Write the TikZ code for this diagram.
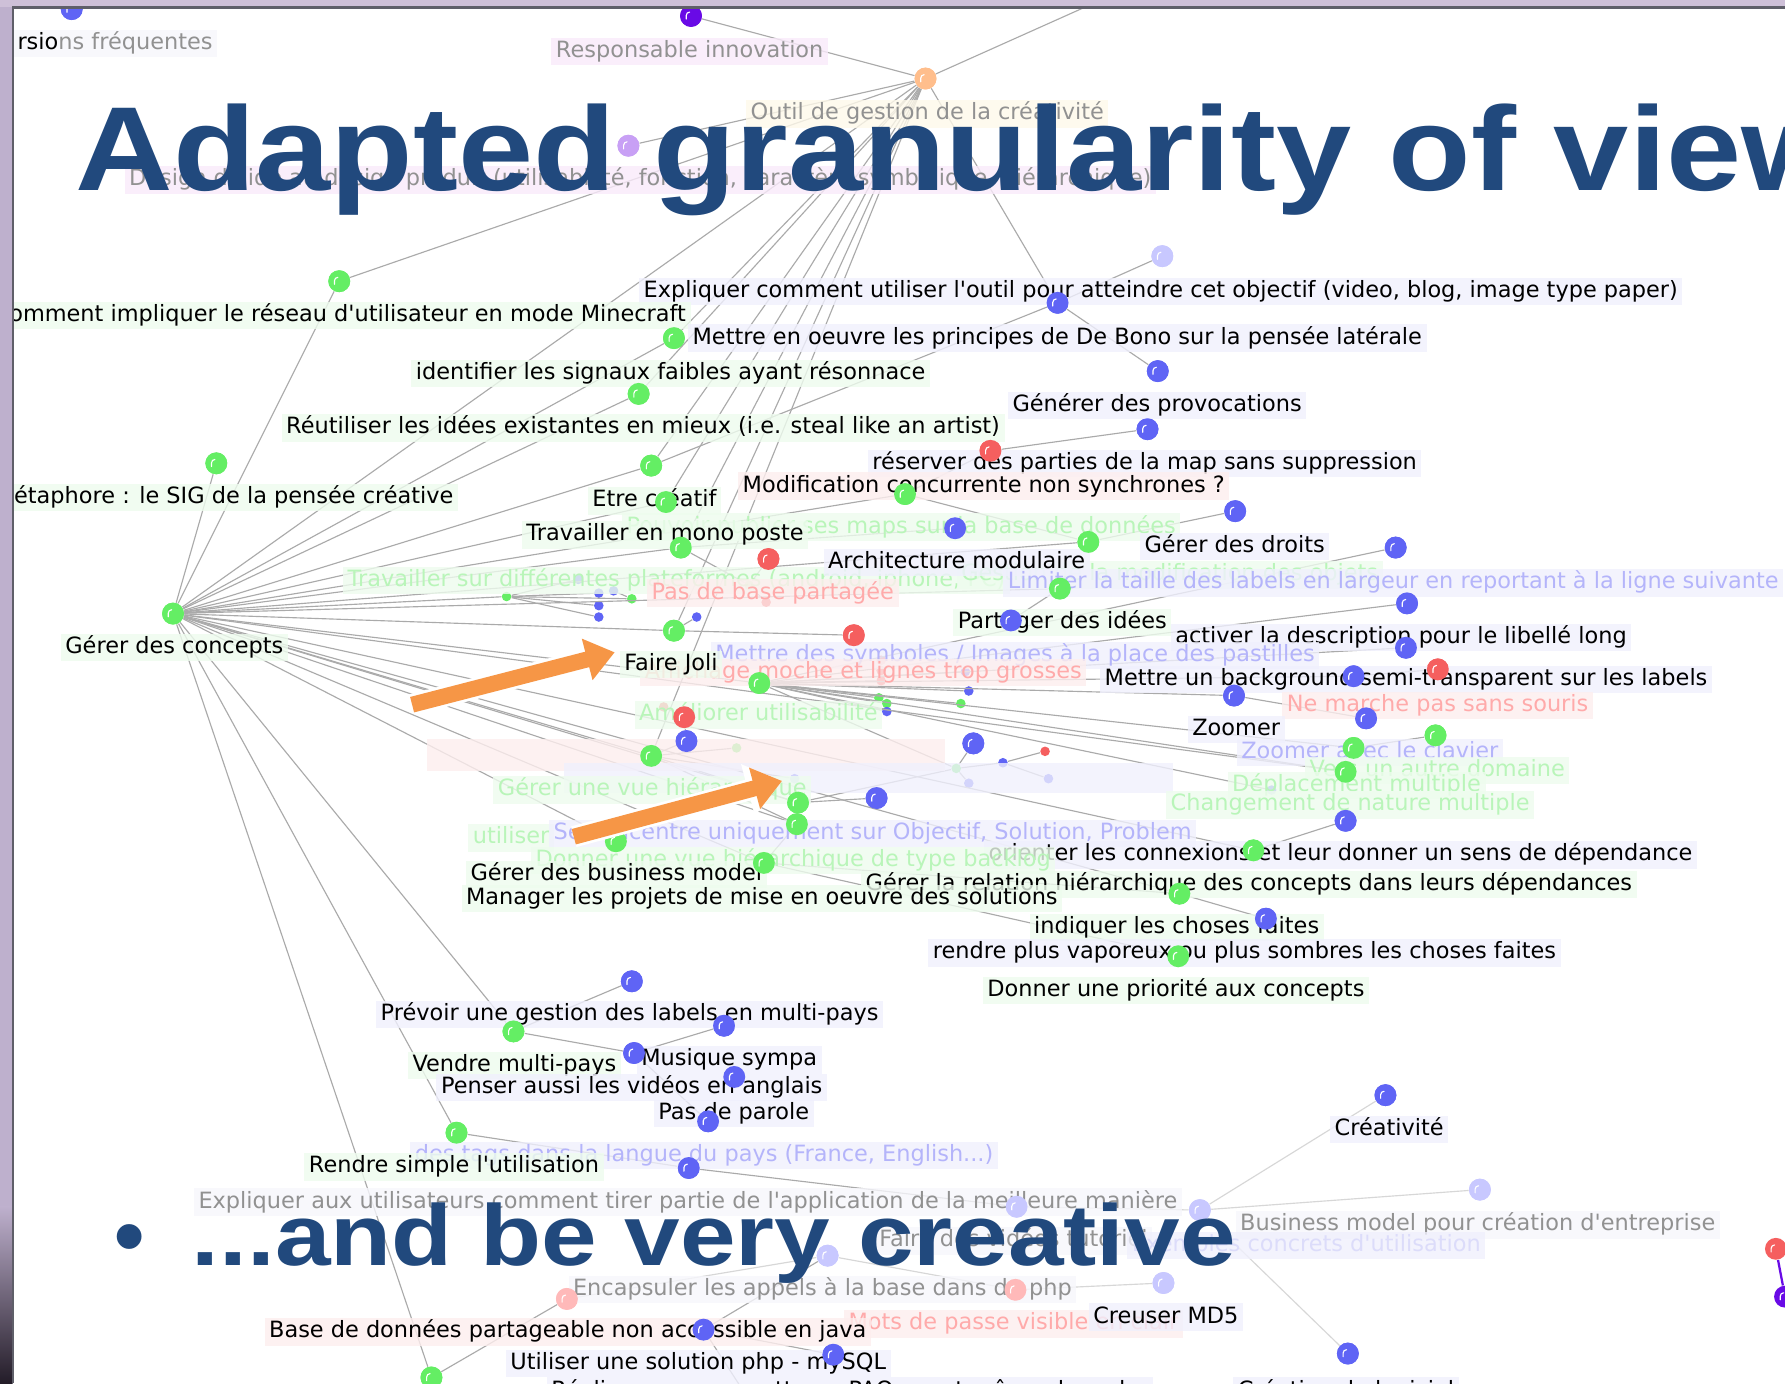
\documentclass[tikz,border=0pt]{standalone}
\usepackage{fontspec}
\setmainfont{DejaVu Sans}
\newfontfamily\titlefont{Liberation Sans}
\usetikzlibrary{arrows.meta}
\newcommand{\apo}{\textquotesingle}
\definecolor{cG}{RGB}{100,238,100}
\definecolor{cB}{RGB}{95,100,245}
\definecolor{cR}{RGB}{245,95,95}
\definecolor{cFB}{RGB}{200,200,255}
\definecolor{cFR}{RGB}{255,185,185}
\definecolor{cOr}{RGB}{255,190,140}
\definecolor{cPu}{RGB}{105,10,230}
\definecolor{cLa}{RGB}{200,160,245}
\definecolor{bgG}{RGB}{238,252,238}
\definecolor{bgB}{RGB}{240,240,253}
\definecolor{bgR}{RGB}{253,238,238}
\definecolor{bgP}{RGB}{249,234,250}
\definecolor{bgY}{RGB}{254,249,234}
\definecolor{bgW}{RGB}{247,247,252}
\definecolor{tG}{RGB}{185,245,185}
\definecolor{tB}{RGB}{180,180,250}
\definecolor{tR}{RGB}{255,170,170}
\definecolor{tGr}{RGB}{145,145,145}
\definecolor{tFB}{RGB}{220,220,250}
\definecolor{edgec}{RGB}{170,170,170}
\definecolor{edgef}{RGB}{215,215,215}
\definecolor{titlec}{RGB}{33,73,125}
\definecolor{arrowc}{RGB}{246,150,70}
\definecolor{frameA}{RGB}{190,176,205}
\definecolor{frameD}{RGB}{35,28,40}
\definecolor{frameT}{RGB}{206,192,216}
\definecolor{bordc}{RGB}{95,95,105}
\tikzset{
  ball/.style={circle,inner sep=0pt,minimum size=9.6pt,fill=#1,draw=none,
    path picture={\draw[white,line width=0.5pt,line cap=round]
      ([xshift=-2.1pt,yshift=-1.4pt]path picture bounding box.center) -- ++(0pt,1.6pt)
      arc[start angle=180,end angle=90,radius=1.5pt];}},
  dot/.style={circle,inner sep=0pt,minimum size=4.2pt,fill=#1,draw=none},
  edge/.style={draw=edgec,line width=0.5pt},
  edgefaint/.style={draw=edgef,line width=0.5pt},
  lab/.style={anchor=west,inner xsep=2pt,inner ysep=0pt,minimum height=12pt,
    text height=7.4pt,text depth=2.2pt,font=\fontsize{9.85}{10}\selectfont,
    fill opacity=0.8,text opacity=1},
  lg/.style={lab,fill=bgG}, lb/.style={lab,fill=bgB}, lr/.style={lab,fill=bgR},
  lp/.style={lab,fill=bgP}, ly/.style={lab,fill=bgY}, lw/.style={lab,fill=bgW},
  arrowout/.style={white,line width=9.4pt,-{Triangle[length=15.5pt,width=22.5pt]}},
  arrowin/.style={arrowc,line width=7pt,-{Triangle[length=12.5pt,width=18pt]}},
  bigtext/.style={anchor=base west,inner sep=0pt,text=titlec}
}
\begin{document}
\begin{tikzpicture}[x=0.5pt,y=-0.5pt]
\useasboundingbox (0,0) rectangle (1568,1215);
\clip (0,0) rectangle (1568,1215);
\fill[white] (0,0) rectangle (1568,1215);

% ---------------- balls (positions) ----------------
\node[ball=cB] (b0) at (63,8) {};
\node[ball=cPu] (pu) at (607,14) {};
\node[ball=cOr] (ro) at (813,69) {};
\node[ball=cLa] (la) at (552,128) {};
\coordinate (tr) at (985,-8);
\node[ball=cFB] (fb1) at (1021,225) {};
\node[ball=cG] (g1) at (298,247) {};
\node[ball=cB] (b1) at (929,266) {};
\node[ball=cG] (g2) at (592,297) {};
\node[ball=cB] (b2) at (1017,326) {};
\node[ball=cG] (g3) at (561,346) {};
\node[ball=cB] (b3) at (1008,377) {};
\node[ball=cR] (r1) at (870,396) {};
\node[ball=cG] (g4) at (572,409) {};
\node[ball=cG] (g5) at (190,407) {};
\node[ball=cG] (g6) at (585,441) {};
\node[ball=cG] (g7) at (795,434) {};
\node[ball=cB] (b4) at (1085,449) {};
\node[ball=cB] (b5) at (839,464) {};
\node[ball=cG] (g8) at (956,476) {};
\node[ball=cG] (g9) at (598,481) {};
\node[ball=cR] (r2) at (675,491) {};
\node[ball=cB] (b6) at (1226,481) {};
\node[ball=cG] (g10) at (931,517) {};
\node[ball=cB] (b7) at (1236,530) {};
\node[ball=cG] (gc) at (152,539) {};
\node[dot=cG] (sg1) at (445,524) {};
\node[dot=cB] (sb1) at (508,509) {};
\node[dot=cB] (sb2) at (526,521) {};
\node[dot=cB] (sb3) at (539,519) {};
\node[dot=cB] (sb4) at (526,532) {};
\node[dot=cB] (sb5) at (526,542) {};
\node[dot=cG] (sg2) at (555,526) {};
\node[dot=cG] (sg3) at (658,514) {};
\node[dot=cR] (sr1) at (673,529) {};
\node[dot=cB] (sb6) at (612,542) {};
\node[ball=cG] (g11) at (592,554) {};
\node[ball=cR] (r3) at (750,558) {};
\node[ball=cB] (b8) at (888,545) {};
\node[ball=cB] (b9) at (1235,569) {};
\node[ball=cR] (r4) at (1263,588) {};
\node[ball=cB] (b10) at (1189,594) {};
\node[ball=cB] (b11) at (1084,611) {};
\node[ball=cB] (b12) at (1200,631) {};
\node[ball=cG] (g12) at (667,600) {};
\node[dot=cR] (sr4) at (774,580) {};
\node[dot=cR] (sr5) at (774,589) {};
\node[dot=cR] (sr6) at (774,598) {};
\node[dot=cG] (sg4) at (772,613) {};
\node[dot=cG] (sg5) at (779,618) {};
\node[dot=cB] (sb7) at (779,625) {};
\node[dot=cB] (sb8) at (848,590) {};
\node[dot=cB] (sb9) at (851,607) {};
\node[dot=cG] (sg6) at (844,618) {};
\node[ball=cR] (r5) at (601,630) {};
\node[dot=cR] (sr2) at (583,621) {};
\node[ball=cB] (b13) at (603,651) {};
\node[ball=cG] (g13) at (572,664) {};
\node[dot=cG] (sg7) at (647,657) {};
\node[ball=cB] (b14) at (855,653) {};
\node[ball=cG] (g14) at (1261,646) {};
\node[ball=cG] (g15) at (1189,657) {};
\node[ball=cG] (g16) at (1182,678) {};
\node[dot=cG] (sg8) at (840,675) {};
\node[dot=cB] (sb10) at (881,670) {};
\node[dot=cR] (sr3) at (918,660) {};
\node[dot=cB] (sb11) at (851,688) {};
\node[dot=cB] (sb12) at (921,684) {};
\node[dot=cB] (sb13) at (698,684) {};
\node[ball=cB] (b15) at (770,701) {};
\node[ball=cG] (g17) at (701,705) {};
\node[ball=cG] (g18) at (700,724) {};
\node[ball=cG] (g19) at (541,739) {};
\node[ball=cG] (g20) at (671,758) {};
\node[dot=cB] (sb14) at (1117,694) {};
\node[ball=cB] (b16) at (1182,721) {};
\node[ball=cG] (g21) at (1101,747) {};
\node[ball=cG] (g22) at (1036,785) {};
\node[ball=cB] (b17) at (1112,807) {};
\node[ball=cG] (g23) at (1035,840) {};
\node[ball=cB] (b18) at (555,862) {};
\node[ball=cB] (b19) at (636,901) {};
\node[ball=cG] (g24) at (451,906) {};
\node[ball=cB] (b20) at (557,925) {};
\node[ball=cB] (b21) at (645,946) {};
\node[ball=cB] (b22) at (622,985) {};
\node[ball=cG] (g25) at (401,995) {};
\node[ball=cB] (b23) at (605,1026) {};
\node[ball=cB] (b24) at (1217,962) {};
\node[ball=cFB] (fb2) at (1300,1045) {};
\node[ball=cFB] (fb3) at (893,1060) {};
\node[ball=cFB] (fb4) at (1054,1063) {};
\node[ball=cFB] (fb5) at (727,1103) {};
\node[ball=cFR] (fr1) at (892,1133) {};
\node[ball=cFB] (fb6) at (1022,1127) {};
\node[ball=cFR] (fr2) at (498,1141) {};
\node[ball=cB] (b25) at (618,1168) {};
\node[ball=cB] (b26) at (732,1190) {};
\node[ball=cB] (b27) at (1184,1189) {};
\node[ball=cG] (g26) at (379,1210) {};
\coordinate (bt) at (655,1225);

% ---------------- edges ----------------
\foreach \a/\b in {pu/ro,ro/tr,la/ro,ro/g1,ro/gc,ro/b1,ro/g2,ro/g3,ro/g4,ro/g6,ro/g9,ro/g11,ro/g13,
  gc/g1,gc/g5,gc/g2,gc/g3,gc/g4,gc/g6,gc/g7,gc/g9,gc/g8,gc/g10,gc/sg1,gc/g11,gc/g12,gc/g13,
  gc/g17,gc/g18,gc/g19,gc/g20,gc/g21,gc/g22,gc/g16,gc/g24,gc/g25,gc/g26,
  b1/fb1,b1/b2,b1/g4,r1/b3,r1/g7,b4/g8,g8/g7,b5/g9,g10/b8,
  r2/sg3,sg3/sr1,sg3/g9,sg1/sb2,sg1/sb4,sg1/sb5,sg1/sg2,sg1/sb1,sg2/sb3,
  g11/r3,g11/sb6,
  g12/b6,g12/b7,g12/b9,g12/b10,g12/b11,g12/g15,g12/g16,g12/sb14,g12/sg4,g12/sg5,g12/sb7,
  g12/sb8,g12/sb9,g12/sg6,g12/sg8,g12/sr6,b10/r4,b11/b12,g15/g14,
  g13/b13,g13/sg7,g13/sb13,g13/g17,g13/g18,b13/r5,r5/sr2,
  g17/b15,g17/sg8,sg8/b14,sg8/sb11,sg8/sb10,sb10/sr3,sb10/sb12,
  g18/g20,g20/g23,g20/g22,g22/b17,g21/b16,
  g24/b18,g24/b20,b20/b19,b20/b22,g25/b23,b23/fb3,
  g26/fr2,fb5/b25,b25/b26,b25/bt}
  {\draw[edge] (\a) -- (\b);}
\foreach \a/\b in {fb3/fb4,fb4/b24,fb4/fb2,fb4/b27,fr2/fb5,fb5/fr1,fr1/fb6}
  {\draw[edgefaint] (\a) -- (\b);}

% ---------------- faint label backgrounds ----------------
\fill[bgR,opacity=0.8] (375,649) rectangle (830,677);
\fill[bgB,opacity=0.8] (495,670) rectangle (1030,697);

% ---------------- labels ----------------
\node[lw,text=tGr] (L1) at (11,38) {\textcolor{black}{rsio}ns fréquentes};
\node[lp,text=tGr] (L2) at (484,45) {Responsable innovation};
\node[ly,text=tGr] (L3) at (655,100) {Outil de gestion de la créativité};
\node[lp,text=tGr] (L4) at (109,158) {Design d\apo aide au design produit (utilisabilité, fonction, caractère symbolique, hiérarchique)};
\node[lb] (L5) at (561,256) {Expliquer comment utiliser l\apo outil pour atteindre cet objectif (video, blog, image type paper)};
\node[lg] (L6) at (-10,277) {Comment impliquer le réseau d\apo utilisateur en mode Minecraft};
\node[lb] (L7) at (604,297) {Mettre en oeuvre les principes de De Bono sur la pensée latérale};
\node[lg] (L8) at (361,328) {identifier les signaux faibles ayant résonnace};
\node[lb] (L9) at (885,356) {Générer des provocations};
\node[lg] (L10) at (247,376) {Réutiliser les idées existantes en mieux (i.e. steal like an artist)};
\node[lb] (L11) at (762,407) {réserver des parties de la map sans suppression};
\node[lr] (L14) at (648,427) {Modification concurrente non synchrones ?};
\node[lg] (L12) at (-9,437) {Métaphore : le SIG de la pensée créative};
\node[lg] (L13) at (516,440) {Etre créatif};
\node[lg,text=tG] (L16) at (546,463) {Pouvoir publier ses maps sur la base de données};
\node[lg] (L15) at (458,470) {Travailler en mono poste};
\node[lb] (L17) at (1001,480) {Gérer des droits};
\node[lg,text=tG] (L19) at (301,510) {Travailler sur différentes plateformes (android, iphone, PC)};
\node[lg,text=tG] (L19b) at (840,505) {Gestion de la modification des objets};
\node[lb] (L18) at (723,494) {Architecture modulaire};
\node[lb,text=tB] (L20) at (881,512) {Limiter la taille des labels en largeur en reportant à la ligne suivante};
\node[lr,text=tR] (L21) at (568,521) {Pas de base partagée};
\node[lg] (L22) at (837,547) {Partager des idées};
\node[lb] (L23) at (1028,560) {activer la description pour le libellé long};
\node[lg] (L24) at (53,569) {Gérer des concepts};
\node[lb,text=tB] (L26) at (624,576) {Mettre des symboles / Images à la place des pastilles};
\node[lr,text=tR] (L27) at (562,591) {Affichage moche et lignes trop grosses};
\node[lg] (L25) at (544,584) {Faire Joli};
\node[lb] (L28) at (966,597) {Mettre un background semi-transparent sur les labels};
\node[lr,text=tR] (L29) at (1126,620) {Ne marche pas sans souris};
\node[lg,text=tG] (L30) at (557,628) {Améliorer utilisabilité};
\node[lb] (L31) at (1043,641) {Zoomer};
\node[lb,text=tB] (L32) at (1086,661) {Zoomer avec le clavier};
\node[lg,text=tG] (L33) at (1146,677) {Vers un autre domaine};
\node[lg,text=tG] (L34) at (1078,690) {Déplacement multiple};
\node[lg,text=tG] (L36) at (433,694) {Gérer une vue hiérarchique};
\node[lg,text=tG] (L35) at (1024,707) {Changement de nature multiple};
\node[lg,text=tG] (L37b) at (411,736) {utiliser};
\node[lb,text=tB] (L37) at (482,732) {Se concentre uniquement sur Objectif, Solution, Problem};
\node[lb] (L39) at (864,751) {orienter les connexions et leur donner un sens de dépendance};
\node[lg,text=tG] (L38) at (466,756) {Donner une vue hiérarchique de type backlog};
\node[lg] (L40) at (409,768) {Gérer des business model};
\node[lg] (L41) at (756,777) {Gérer la relation hiérarchique des concepts dans leurs dépendances};
\node[lg] (L42) at (405,789) {Manager les projets de mise en oeuvre des solutions};
\node[lg] (L43) at (904,815) {indiquer les choses faites};
\node[lb] (L44) at (815,837) {rendre plus vaporeux ou plus sombres les choses faites};
\node[lg] (L45) at (863,870) {Donner une priorité aux concepts};
\node[lb] (L46) at (330,891) {Prévoir une gestion des labels en multi-pays};
\node[lb] (L47) at (559,931) {Musique sympa};
\node[lg] (L48) at (358,936) {Vendre multi-pays};
\node[lb] (L49) at (383,955) {Penser aussi les vidéos en anglais};
\node[lb] (L50) at (574,978) {Pas de parole};
\node[lb] (L51) at (1168,992) {Créativité};
\node[lb,text=tB] (L52) at (360,1015) {des tags dans la langue du pays (France, English...)};
\node[lg] (L53) at (267,1025) {Rendre simple l\apo utilisation};
\node[lw,text=tGr] (L54) at (170,1056) {Expliquer aux utilisateurs comment tirer partie de l\apo application de la meilleure manière};
\node[lw,text=tGr] (L55) at (1085,1076) {Business model pour création d\apo entreprise};
\node[lw,text=tGr] (L57) at (768,1090) {Faire des vidéos tutoriel};
\node[lb,text=tFB] (L56) at (990,1094) {Exemples concrets d\apo utilisation};
\node[lw,text=tGr] (L58) at (499,1133) {Encapsuler les appels à la base dans du php};
\node[lr,text=tR] (L59) at (741,1163) {Mots de passe visible en clair};
\node[lb] (L60) at (956,1157) {Creuser MD5};
\node[lr] (L61) at (232,1170) {Base de données partageable non accessible en java};
\node[lb] (L62) at (444,1198) {Utiliser une solution php - mySQL};
\node[lb] (L63) at (480,1222) {Réaliser une maquette en PAO avant même de coder};
\node[lb] (L64) at (1083,1222) {Création de logiciel};

% ---------------- redraw balls above labels ----------------
\foreach \n/\c/\x/\y in {b0/cB/63/8,pu/cPu/607/14,ro/cOr/813/69,la/cLa/552/128,fb1/cFB/1021/225,g1/cG/298/247,
 b1/cB/929/266,g2/cG/592/297,b2/cB/1017/326,g3/cG/561/346,b3/cB/1008/377,r1/cR/870/396,g4/cG/572/409,
 g5/cG/190/407,g6/cG/585/441,g7/cG/795/434,b4/cB/1085/449,b5/cB/839/464,g8/cG/956/476,g9/cG/598/481,
 r2/cR/675/491,b6/cB/1226/481,g10/cG/931/517,b7/cB/1236/530,gc/cG/152/539,g11/cG/592/554,r3/cR/750/558,
 b8/cB/888/545,b9/cB/1235/569,r4/cR/1263/588,b10/cB/1189/594,b11/cB/1084/611,b12/cB/1200/631,
 g12/cG/667/600,r5/cR/601/630,b13/cB/603/651,g13/cG/572/664,b14/cB/855/653,g14/cG/1261/646,
 g15/cG/1189/657,g16/cG/1182/678,b15/cB/770/701,g17/cG/701/705,g18/cG/700/724,g19/cG/541/739,
 g20/cG/671/758,b16/cB/1182/721,g21/cG/1101/747,g22/cG/1036/785,b17/cB/1112/807,g23/cG/1035/840,
 b18/cB/555/862,b19/cB/636/901,g24/cG/451/906,b20/cB/557/925,b21/cB/645/946,b22/cB/622/985,
 g25/cG/401/995,b23/cB/605/1026,b24/cB/1217/962,fb2/cFB/1300/1045,fb3/cFB/893/1060,fb4/cFB/1054/1063,
 fb5/cFB/727/1103,fr1/cFR/892/1133,fb6/cFB/1022/1127,fr2/cFR/498/1141,b25/cB/618/1168,b26/cB/732/1190,
 b27/cB/1184/1189,g26/cG/379/1210}
 {\node[ball=\c] (\n-top) at (\x,\y) {};}

% small icon at bottom right
\node[ball=cR] (rr) at (1560,1097) {};
\node[ball=cPu] (pp) at (1568,1139) {};
\draw[cPu,line width=1pt] (rr) -- (pp);

% ---------------- orange arrows ----------------
\coordinate (a1s) at (362,619);
\coordinate (a1e) at (540,573);
\coordinate (a2s) at (504,735);
\coordinate (a2e) at (687,686);
\draw[arrowout] (a1s) -- (a1e);
\draw[arrowin] (a1s) -- (a1e);
\draw[arrowout] (a2s) -- (a2e);
\draw[arrowin] (a2s) -- (a2e);

% ---------------- title and bullet ----------------
\node[bigtext,font=\titlefont\bfseries\fontsize{52.5}{60}\selectfont] (title) at (66,167)
  {\scalebox{1.13}[1]{Adapted granularity of view}};
\node[bigtext,font=\titlefont\bfseries\fontsize{38}{44}\selectfont] (bullet) at (100,1112) {•};
\node[bigtext,font=\titlefont\bfseries\fontsize{38}{44}\selectfont] (creative) at (168,1112)
  {\scalebox{1.155}[1]{...and be very creative}};

% ---------------- window frame ----------------
\fill[frameA] (0,0) rectangle (11,1060);
\shade[top color=frameA,bottom color=frameD] (0,1060) rectangle (11,1215);
\fill[frameT] (0,0) rectangle (1568,6);
\draw[bordc,line width=1pt] (11.5,1215) -- (11.5,6.5) -- (1568,6.5);
\end{tikzpicture}
\end{document}
